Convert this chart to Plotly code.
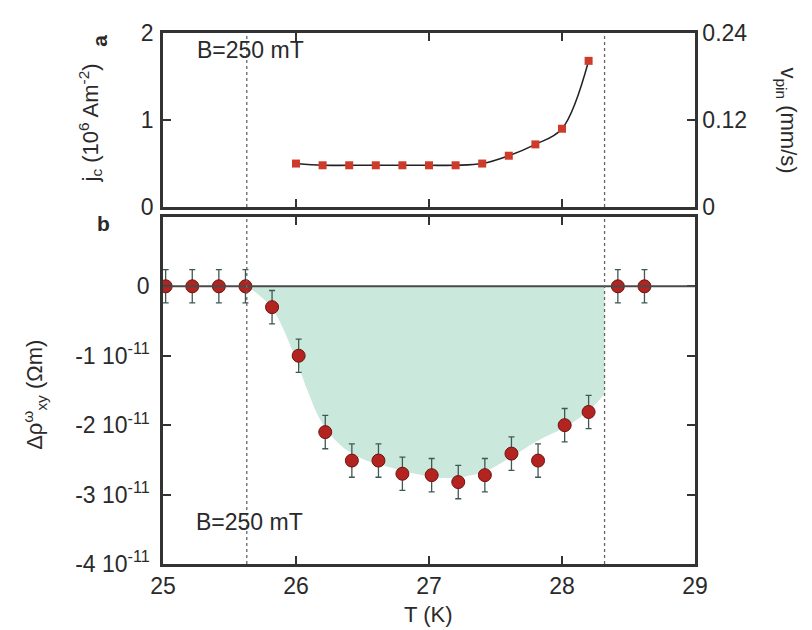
import plotly.graph_objects as go

# ---------------- data ----------------
# panel a: critical current density j_c (10^6 A m^-2)
T_jc = [26.0, 26.2, 26.4, 26.6, 26.8, 27.0, 27.2, 27.4, 27.6, 27.8, 28.0, 28.2]
jc = [0.50, 0.48, 0.48, 0.48, 0.48, 0.48, 0.48, 0.50, 0.59, 0.72, 0.90, 1.68]

# panel b: Delta rho_xy^omega (units of 1e-11 Ohm m)
T_rho = [25.02, 25.22, 25.42, 25.62, 25.82, 26.02, 26.22, 26.42, 26.62, 26.80,
         27.02, 27.22, 27.42, 27.62, 27.82, 28.02, 28.20, 28.42, 28.62]
rho = [0.0, 0.0, 0.0, 0.0, -0.30, -1.00, -2.10, -2.51, -2.51, -2.70,
       -2.72, -2.82, -2.72, -2.41, -2.51, -2.00, -1.81, 0.0, 0.0]
rho_err = [0.24, 0.24, 0.24, 0.24, 0.24, 0.24, 0.24, 0.24, 0.24, 0.24,
           0.24, 0.24, 0.24, 0.24, 0.24, 0.24, 0.24, 0.24, 0.24]

# shaded envelope
env_T = [25.63, 25.81, 25.99, 26.08, 26.19, 26.33, 26.48, 26.71, 26.95,
         27.18, 27.43, 27.61, 27.81, 28.01, 28.19, 28.32]
env_val = [0.0, -0.29, -1.00, -1.47, -1.95, -2.28, -2.47, -2.61, -2.72,
           -2.76, -2.66, -2.47, -2.23, -2.04, -1.81, -1.55]

# transition temperatures (dotted lines)
T_marks = [25.63, 28.32]

# axis ticks
x_ticks = [25, 26, 27, 28, 29]
jc_ticks = [0, 1, 2]
vpin_ticks = [0, 0.12, 0.24]
vpin_ticktext = ["0", "0.12", "0.24"]
rho_ticks = [0, -1, -2, -3, -4]
rho_ticktext = ["0", "-1 10<sup>-11</sup>", "-2 10<sup>-11</sup>",
                "-3 10<sup>-11</sup>", "-4 10<sup>-11</sup>"]

# ---------------- figure ----------------
FONT = "Liberation Sans, Arial, sans-serif"
AX = "#333333"
RED = "#b3231f"
TXT = "#2a2a2a"

fig = go.Figure()

# panel b shaded area
fig.add_trace(go.Scatter(x=env_T, y=env_val, mode="lines", line=dict(width=0, shape="spline"),
                         fill="tozeroy", fillcolor="#cbe8dd", xaxis="x", yaxis="y",
                         hoverinfo="skip", showlegend=False))
# panel b data
fig.add_trace(go.Scatter(x=T_rho, y=rho, mode="markers",
                         marker=dict(symbol="circle", size=13, color=RED,
                                     line=dict(color="#6e1410", width=1)),
                         error_y=dict(type="data", array=rho_err, visible=True,
                                      color="#3d5a52", thickness=1.3, width=3),
                         xaxis="x", yaxis="y", showlegend=False))

# panel a fit line and data
fig.add_trace(go.Scatter(x=T_jc, y=jc, mode="lines", line=dict(color="#222222", width=1.6, shape="spline"),
                         xaxis="x2", yaxis="y2", showlegend=False, hoverinfo="skip"))
fig.add_trace(go.Scatter(x=T_jc, y=jc, mode="markers",
                         marker=dict(symbol="square", size=8, color="#cf3b2a"),
                         xaxis="x2", yaxis="y2", showlegend=False))
# dummy for right axis of panel a
fig.add_trace(go.Scatter(x=[None], y=[None], xaxis="x2", yaxis="y3", showlegend=False))

shapes = []
# zero line in panel b
shapes.append(dict(type="line", xref="x domain", yref="y", x0=0, x1=1, y0=0, y1=0,
                   line=dict(color="#4a4a4a", width=2), layer="above"))
for t in T_marks:
    shapes.append(dict(type="line", xref="x", yref="y domain", x0=t, x1=t, y0=0, y1=1,
                       line=dict(color="#666666", width=1.3, dash="dot"), layer="above"))
    shapes.append(dict(type="line", xref="x2", yref="y2 domain", x0=t, x1=t, y0=0, y1=1,
                       line=dict(color="#666666", width=1.3, dash="dot"), layer="above"))

axis_common = dict(showline=True, linecolor=AX, linewidth=2.5, ticks="inside",
                   ticklen=8, tickwidth=2, tickcolor=AX, showgrid=False, zeroline=False,
                   tickfont=dict(family=FONT, size=23, color=TXT))

# page has an 8px body margin: size the figure so the plot lands at the right pixels
fig.update_layout(
    width=804, height=622,
    margin=dict(l=155, r=117, t=16, b=66),
    plot_bgcolor="white", paper_bgcolor="white",
    font=dict(family=FONT, color=TXT),
    shapes=shapes,
    xaxis=dict(domain=[0, 1], range=[25, 29], tickvals=x_ticks, mirror="ticks",
               anchor="y", **axis_common),
    yaxis=dict(domain=[0, 0.6537], range=[-4, 1], tickvals=rho_ticks, ticktext=rho_ticktext,
               mirror="ticks", anchor="x", ticklabelstandoff=6, **axis_common),
    xaxis2=dict(domain=[0, 1], range=[25, 29], tickvals=x_ticks, showticklabels=False,
                mirror="ticks", anchor="y2", **axis_common),
    yaxis2=dict(domain=[0.6722, 1], range=[0, 2], tickvals=jc_ticks, mirror="ticks",
                anchor="x2", ticklabelstandoff=2, **axis_common),
    yaxis3=dict(overlaying="y2", side="right", range=[0, 0.24], tickvals=vpin_ticks,
                ticktext=vpin_ticktext, anchor="x2", **axis_common),
)

# annotations given in window pixels, converted to paper coords
PL, PT, PW, PH = 163, 24, 532, 540


def px(x, y):
    return (x - PL) / PW, (PT + PH - y) / PH


def pann(text, x, y, size, angle=0):
    xx, yy = px(x, y)
    return dict(text=text, x=xx, y=yy, xref="paper", yref="paper", xanchor="center",
                yanchor="middle", showarrow=False, textangle=angle,
                font=dict(size=size, family=FONT, color=TXT))


ann = [
    dict(text="B=250 mT", x=25.66, y=1.8, xref="x2", yref="y2", showarrow=False,
         xanchor="center", yanchor="middle", font=dict(size=23)),
    dict(text="B=250 mT", x=25.65, y=-3.4, xref="x", yref="y", showarrow=False,
         xanchor="center", yanchor="middle", font=dict(size=23)),
    pann("T (K)", 428, 615, 22),
    pann("j<sub>c</sub> (10<sup>6</sup> Am<sup>-2</sup>)", 90, 116, 22, -90),
    pann("<b>a</b>", 100, 32, 21, -90),
    pann("<b>b</b>", 103, 218, 21),
    pann("v<sub>pin</sub> (mm/s)", 787, 113, 22, 90),
    pann("Δρ<sup>ω</sup><sub>xy</sub> (Ωm)", 35, 392, 22, -90),
]
fig.update_layout(annotations=ann)

fig.write_html("out.html")
